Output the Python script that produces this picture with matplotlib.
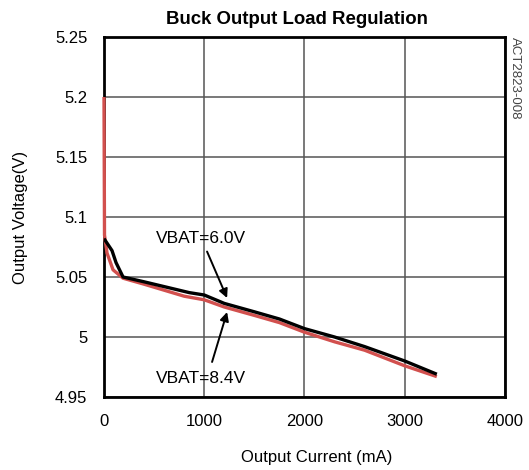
import matplotlib
matplotlib.use("Agg")
import matplotlib.pyplot as plt

plt.rcParams['font.family'] = ['Liberation Sans', 'DejaVu Sans']

title = "Buck Output Load Regulation"
x_label = "Output Current (mA)"
y_label = "Output Voltage(V)"
side_note = "ACT2823-008"

x_ticks = [0, 1000, 2000, 3000, 4000]
y_ticks = [4.95, 5.0, 5.05, 5.1, 5.15, 5.2, 5.25]
y_tick_labels = ["4.95", "5", "5.05", "5.1", "5.15", "5.2", "5.25"]

vbat6_current = [0, 40, 80, 120, 190, 400, 600, 850, 1000, 1200, 1500, 1750, 2000, 2300, 2600, 3000, 3320]
vbat6_voltage = [5.082, 5.077, 5.072, 5.062, 5.050, 5.046, 5.042, 5.037, 5.035, 5.028, 5.021, 5.015, 5.007, 5.000, 4.992, 4.980, 4.969]

vbat84_current = [0, 5, 30, 90, 190, 400, 600, 800, 1000, 1200, 1500, 1750, 2000, 2300, 2600, 3000, 3320]
vbat84_voltage = [5.200, 5.085, 5.070, 5.056, 5.049, 5.044, 5.039, 5.034, 5.031, 5.025, 5.018, 5.012, 5.004, 4.996, 4.989, 4.976, 4.967]

fig = plt.figure(figsize=(5.29, 4.70), dpi=100)
ax = fig.add_axes([0.1966, 0.1553, 0.758, 0.766])

ax.plot(vbat84_current, vbat84_voltage, color='#d2504e', lw=2.4, zorder=2.8, clip_on=False, solid_capstyle='butt')
ax.plot(vbat6_current, vbat6_voltage, color='black', lw=2.4, zorder=3, solid_capstyle='butt')

ax.set_xlim(0, 4000)
ax.set_ylim(4.95, 5.25)
ax.set_xticks(x_ticks)
ax.set_yticks(y_ticks)
ax.set_yticklabels(y_tick_labels)
ax.tick_params(axis='x', length=0, labelsize=12, pad=12.5)
ax.tick_params(axis='y', length=0, labelsize=12, pad=12)
ax.grid(True, color='#555555', lw=1.1)
ax.set_axisbelow(True)
for s in ax.spines.values():
    s.set_linewidth(2)
    s.set_color('black')

fig.text(316.5 / 529, 1 - 462 / 470, x_label, ha='center', va='baseline', fontsize=12)
fig.text(21 / 529, 1 - 217 / 470, y_label, ha='center', va='center', rotation=90, fontsize=12)
fig.text(296.5 / 529, 1 - 24 / 470, title, ha='center', va='baseline', fontsize=13.4, fontweight='bold')

ax.text(968, 5.0821, "VBAT=6.0V", ha='center', va='center', fontsize=12.5)
ax.text(968, 4.9654, "VBAT=8.4V", ha='center', va='center', fontsize=12.5)
arrow = dict(arrowstyle='-|>', color='black', lw=1.4, mutation_scale=13, shrinkA=0, shrinkB=0)
ax.annotate("", xy=(1228, 5.0325), xytext=(1028, 5.0712), arrowprops=arrow)
ax.annotate("", xy=(1228, 5.0208), xytext=(1078, 4.9792), arrowprops=arrow)

fig.text(515 / 529, 1 - 37 / 470, side_note, rotation=-90, ha='center', va='top', fontsize=9.5, color='#444444')

fig.savefig("out.png", dpi=100)
